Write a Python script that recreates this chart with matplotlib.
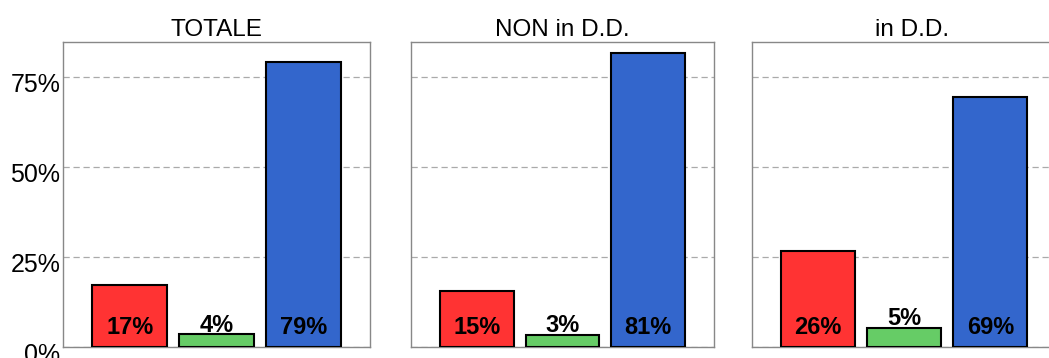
import matplotlib
matplotlib.use('Agg')
import matplotlib.pyplot as plt
import matplotlib.transforms as mtransforms
from matplotlib.ticker import PercentFormatter

plt.rcParams['font.family'] = ['Liberation Sans', 'DejaVu Sans']

panels = ['TOTALE', 'NON in D.D.', 'in D.D.']
categories = ['A', 'B', 'C']
values = {
    'TOTALE': [0.17, 0.04, 0.79],
    'NON in D.D.': [0.15, 0.03, 0.81],
    'in D.D.': [0.26, 0.05, 0.69],
}
# the tallest bars are drawn a bit above the rounded label value
heights = {
    'TOTALE': [0.172, 0.035, 0.792],
    'NON in D.D.': [0.155, 0.034, 0.817],
    'in D.D.': [0.266, 0.052, 0.694],
}
colors = ['#FF3333', '#66CC66', '#3366CC']
yticks = [0, 0.25, 0.50, 0.75]

fig = plt.figure(figsize=(10.49, 3.58), dpi=100)
W, H = 1049, 358
lefts = [63, 411, 752]
widths = [307, 303, 320]
bottom, top = 347, 42

for i, name in enumerate(panels):
    ax = fig.add_axes([lefts[i] / W, 1 - bottom / H, widths[i] / W, (bottom - top) / H])
    x = range(len(categories))
    ax.bar(x, heights[name], width=0.86, color=colors, edgecolor='black',
           linewidth=1.5, zorder=3)
    for xi, v, h in zip(x, values[name], heights[name]):
        if xi == 1:
            y = h + 0.026
        else:
            y = 0.053
        ax.text(xi, y, f'{v * 100:.0f}%', ha='center', va='center',
                fontsize=17, fontweight='bold', zorder=4)
    ax.set_xlim(-0.77, 2.77 if i < 2 else 2.95)
    ax.set_ylim(0, 0.847)
    ax.set_yticks(yticks)
    ax.yaxis.set_major_formatter(PercentFormatter(1.0, decimals=0))
    ax.set_xticks([])
    ax.grid(axis='y', ls=(0, (5, 3)), lw=0.9, color='#AAAAAA', zorder=1)
    ax.tick_params(axis='y', length=0, labelsize=18, pad=2)
    if i > 0:
        ax.tick_params(axis='y', labelleft=False)
    else:
        shift = mtransforms.ScaledTranslation(0, -6 / 100, fig.dpi_scale_trans)
        for lab in ax.get_yticklabels():
            lab.set_transform(lab.get_transform() + shift)
    for s in ax.spines.values():
        s.set_color('#888888')
        s.set_linewidth(1.0)
    ax.set_title(name, fontsize=17.5, pad=4)

fig.savefig('out.png', dpi=100)
